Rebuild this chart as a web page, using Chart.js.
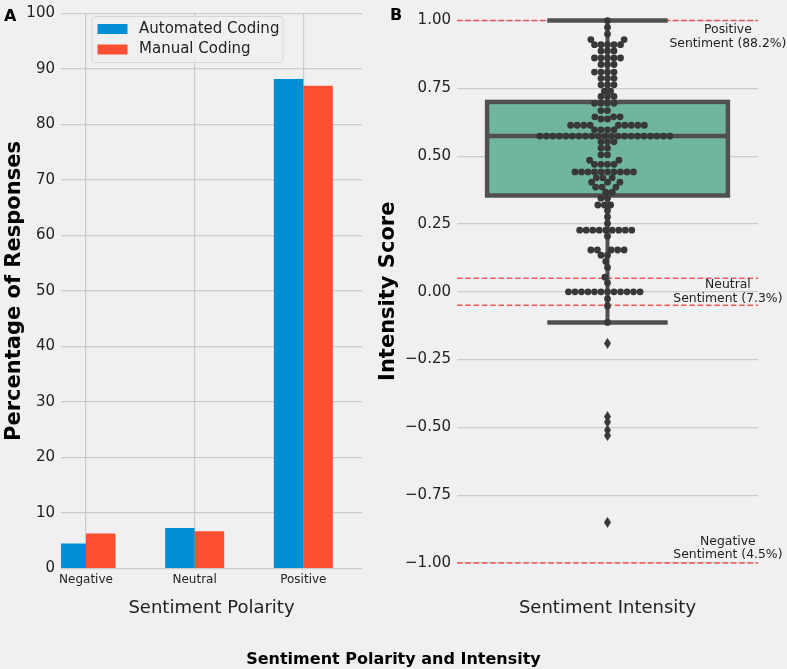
<!DOCTYPE html>
<html><head><meta charset="utf-8">
<script src="https://cdn.jsdelivr.net/npm/chart.js@4/dist/chart.umd.min.js"></script>
<style>
html,body{margin:0;padding:0;background:#f0f0f0;}
#wrap{position:relative;width:787px;height:669px;overflow:hidden;font-family:"DejaVu Sans",sans-serif;background:#f0f0f0;}
canvas{position:absolute;left:0;top:0;}
.lbl{position:absolute;font-weight:bold;color:#000;white-space:nowrap;}
</style></head><body>
<div id="wrap">
<canvas id="cA" width="787" height="640"></canvas>
<canvas id="cB" width="787" height="640"></canvas>
<div class="lbl" style="left:4px;top:8px;font-size:16px;line-height:16px">A</div>
<div class="lbl" style="left:390px;top:7px;font-size:16px;line-height:16px">B</div>
<div class="lbl" style="left:0;width:787px;text-align:center;top:651px;font-size:16px;line-height:16px">Sentiment Polarity and Intensity</div>
</div>
<script>
// ---------- data ----------
const categories = ['Negative', 'Neutral', 'Positive'];
const automatedCoding = [4.5, 7.3, 88.2];
const manualCoding = [6.3, 6.7, 87.0];
const yTicksA = [0, 10, 20, 30, 40, 50, 60, 70, 80, 90, 100];

const yTicksB = [-1.0, -0.75, -0.5, -0.25, 0.0, 0.25, 0.5, 0.75, 1.0];
// box stats: lower whisker, Q1, median, Q3, upper whisker
const boxStats = [-0.113, 0.355, 0.574, 0.70, 1.0];
const flierValues = [-0.19, -0.46, -0.48, -0.51, -0.53, -0.85];
const swarmValues = [
  1.0, 0.975, 0.95, 0.93, 0.93,
  0.911, 0.911, 0.911, 0.911, 0.911,
  0.888, 0.888, 0.888,
  0.862, 0.862, 0.862, 0.862, 0.862,
  0.838, 0.838, 0.838,
  0.81, 0.81, 0.81, 0.81,
  0.787, 0.787, 0.787,
  0.763, 0.763, 0.763,
  0.74, 0.74,
  0.72, 0.72, 0.72,
  0.695, 0.695, 0.695, 0.695,
  0.668, 0.668,
  0.645, 0.645, 0.645, 0.637, 0.637,
  0.614, 0.614, 0.614, 0.614, 0.614, 0.614, 0.614, 0.614, 0.614,
  0.597, 0.597, 0.597, 0.597,
  0.574, 0.574, 0.574, 0.574, 0.574, 0.574, 0.574, 0.574, 0.574, 0.574, 0.574,
  0.574, 0.574, 0.574, 0.574, 0.574, 0.574, 0.574, 0.574, 0.574, 0.574,
  0.553, 0.553, 0.553, 0.53, 0.53,
  0.505, 0.505, 0.485, 0.485,
  0.47, 0.47, 0.47, 0.47,
  0.442, 0.442, 0.442, 0.442, 0.442, 0.442, 0.442, 0.442, 0.442, 0.442,
  0.42, 0.42, 0.42, 0.404, 0.404, 0.404, 0.386, 0.386, 0.386,
  0.367, 0.367, 0.345, 0.345,
  0.32, 0.32, 0.32, 0.30, 0.276, 0.252,
  0.227, 0.227, 0.227, 0.227, 0.227, 0.227, 0.227, 0.227, 0.227,
  0.205,
  0.154, 0.154, 0.154, 0.154, 0.154, 0.135, 0.135,
  0.112, 0.09, 0.054, 0.033,
  0.0, 0.0, 0.0, 0.0, 0.0, 0.0, 0.0, 0.0, 0.0, 0.0, 0.0, 0.0,
  -0.026, -0.052, -0.113
];
const thresholdLines = [1.0, 0.05, -0.05, -1.0];
const sentimentClasses = ['Positive', 'Neutral', 'Negative'];
const sentimentShares = [88.2, 7.3, 4.5];
const labelAnchors = [1.0, 0.0, -1.0];

// ---------- common ----------
Chart.defaults.font.family = "'DejaVu Sans', sans-serif";
Chart.defaults.color = '#222';
const GRID = '#cbcbcb';
const CANVAS_H = 640;
const PLOT_BOTTOM = 568.5;

// ---------- Panel A ----------
const legendA = {
  id: 'legendA',
  afterDraw(chart) {
    const ctx = chart.ctx, a = chart.chartArea;
    const x0 = a.left + 31, y0 = a.top + 3, w = 191, h = 46;
    ctx.save();
    ctx.beginPath();
    ctx.roundRect(x0, y0, w, h, 3);
    ctx.fillStyle = 'rgba(240,240,240,0.8)';
    ctx.fill();
    ctx.strokeStyle = '#d6d6d6';
    ctx.lineWidth = 1;
    ctx.stroke();
    ctx.font = "15px 'DejaVu Sans'";
    ctx.textBaseline = 'middle';
    chart.data.datasets.forEach((ds, i) => {
      const yy = y0 + 12.5 + i * 20.5;
      ctx.fillStyle = ds.backgroundColor;
      ctx.fillRect(x0 + 5.5, yy - 5, 30, 10);
      ctx.fillStyle = '#222';
      ctx.fillText(ds.label, x0 + 47, yy);
    });
    ctx.restore();
  }
};

new Chart(document.getElementById('cA'), {
  type: 'bar',
  data: {
    datasets: [
      { label: 'Automated Coding', data: categories.map((c, i) => ({ x: i, y: automatedCoding[i] })),
        backgroundColor: '#008fd5', borderWidth: 0, categoryPercentage: 0.543, barPercentage: 1.0 },
      { label: 'Manual Coding', data: categories.map((c, i) => ({ x: i, y: manualCoding[i] })),
        backgroundColor: '#fc4f30', borderWidth: 0, categoryPercentage: 0.543, barPercentage: 1.0 }
    ]
  },
  options: {
    responsive: false, animation: false,
    layout: { padding: { left: 0, right: 787 - 362, top: 8.3, bottom: 0 } },
    plugins: { legend: { display: false }, tooltip: { enabled: false } },
    scales: {
      x: {
        type: 'linear', min: -0.23, max: 2.54, offset: false,
        grid: { offset: false, color: GRID, lineWidth: 1.2, drawTicks: false },
        border: { display: false },
        afterBuildTicks: s => { s.ticks = categories.map((c, i) => ({ value: i })); },
        ticks: { callback: v => categories[v], font: { size: 12 }, color: '#222', padding: 4, autoSkip: false, maxRotation: 0 },
        title: { display: true, text: 'Sentiment Polarity', font: { size: 18 }, color: '#222', padding: { top: 0, bottom: 21.2 } },
        afterFit: s => { s.height = CANVAS_H - PLOT_BOTTOM; }
      },
      y: {
        min: 0, max: 100,
        grid: { color: GRID, lineWidth: 1.2, drawTicks: false },
        border: { display: false },
        afterBuildTicks: s => { s.ticks = yTicksA.map(v => ({ value: v })); },
        ticks: { font: { size: 15, lineHeight: 1.0 }, color: '#222', padding: 6 },
        title: { display: true, text: 'Percentage of Responses', font: { size: 21, weight: 'bold' }, color: '#000', padding: { top: 2.4, bottom: 0 } },
        afterFit: s => { s.width = 61; }
      }
    }
  },
  plugins: [legendA]
});

// ---------- Panel B ----------
const diamond = document.createElement('canvas');
diamond.width = 7; diamond.height = 11;
(() => {
  const g = diamond.getContext('2d');
  g.fillStyle = '#383838';
  g.beginPath(); g.moveTo(3.5, 0); g.lineTo(7, 5.5); g.lineTo(3.5, 11); g.lineTo(0, 5.5); g.closePath(); g.fill();
})();

const boxPlugin = {
  id: 'boxPlugin',
  beforeDatasetsDraw(chart) {
    const ctx = chart.ctx, a = chart.chartArea, xs = chart.scales.x, ys = chart.scales.y;
    ctx.save();
    ctx.strokeStyle = 'rgba(245,60,60,0.85)';
    ctx.lineWidth = 1.5;
    ctx.setLineDash([5.5, 2.8]);
    thresholdLines.forEach(v => {
      const y = ys.getPixelForValue(v);
      ctx.beginPath(); ctx.moveTo(a.left, y); ctx.lineTo(a.right, y); ctx.stroke();
    });
    ctx.setLineDash([]);
    const [wLo, q1, med, q3, wHi] = boxStats;
    const xc = xs.getPixelForValue(0);
    const bx0 = xs.getPixelForValue(-0.4), bx1 = xs.getPixelForValue(0.4);
    const cx0 = xs.getPixelForValue(-0.2), cx1 = xs.getPixelForValue(0.2);
    const yq1 = ys.getPixelForValue(q1), yq3 = ys.getPixelForValue(q3);
    ctx.strokeStyle = '#505050';
    ctx.lineWidth = 4;
    ctx.beginPath();
    ctx.moveTo(xc, yq3); ctx.lineTo(xc, ys.getPixelForValue(wHi));
    ctx.moveTo(xc, yq1); ctx.lineTo(xc, ys.getPixelForValue(wLo));
    ctx.stroke();
    ctx.lineWidth = 4.5;
    ctx.beginPath();
    ctx.moveTo(cx0, ys.getPixelForValue(wHi)); ctx.lineTo(cx1, ys.getPixelForValue(wHi));
    ctx.moveTo(cx0, ys.getPixelForValue(wLo)); ctx.lineTo(cx1, ys.getPixelForValue(wLo));
    ctx.stroke();
    ctx.fillStyle = '#70b5a0';
    ctx.fillRect(bx0, yq3, bx1 - bx0, yq1 - yq3);
    ctx.lineWidth = 4.5;
    ctx.strokeRect(bx0, yq3, bx1 - bx0, yq1 - yq3);
    const ym = ys.getPixelForValue(med);
    ctx.beginPath(); ctx.moveTo(bx0, ym); ctx.lineTo(bx1, ym); ctx.stroke();
    ctx.restore();
  },
  afterDatasetsDraw(chart) {
    const ctx = chart.ctx, xs = chart.scales.x, ys = chart.scales.y;
    ctx.save();
    ctx.font = "12.4px 'DejaVu Sans'";
    ctx.fillStyle = '#222';
    ctx.textAlign = 'center';
    ctx.textBaseline = 'middle';
    const x = xs.getPixelForValue(0.4);
    const offsets = [[9.5, 23], [-7, 6.5], [-21.5, -8]];
    sentimentClasses.forEach((c, i) => {
      const y = ys.getPixelForValue(labelAnchors[i]);
      ctx.fillText(c, x, y + offsets[i][0]);
      ctx.fillText('Sentiment (' + sentimentShares[i].toFixed(1) + '%)', x, y + offsets[i][1]);
    });
    ctx.restore();
  }
};

const chartB = new Chart(document.getElementById('cB'), {
  type: 'scatter',
  data: {
    datasets: [
      { label: 'swarm', data: swarmValues.map(v => ({ x: 0, y: v })), pointRadius: 3.4, pointHoverRadius: 3.4,
        backgroundColor: '#383838', borderWidth: 0 },
      { label: 'fliers', data: flierValues.map(v => ({ x: 0, y: v })), pointStyle: diamond, pointRadius: 5,
        backgroundColor: '#383838', borderWidth: 0 }
    ]
  },
  options: {
    responsive: false, animation: false,
    layout: { padding: { left: 375, right: 787 - 758, top: 8, bottom: 0 } },
    plugins: { legend: { display: false }, tooltip: { enabled: false } },
    scales: {
      x: {
        type: 'linear', min: -0.5, max: 0.5,
        grid: { display: false }, border: { display: false },
        ticks: { display: false },
        title: { display: true, text: 'Sentiment Intensity', font: { size: 18 }, color: '#222', padding: { top: 0, bottom: 21.2 } },
        afterFit: s => { s.height = CANVAS_H - PLOT_BOTTOM - 0.5; }
      },
      y: {
        min: -1.022, max: 1.026,
        grid: { color: GRID, lineWidth: 1.2, drawTicks: false },
        border: { display: false },
        afterBuildTicks: s => { s.ticks = yTicksB.map(v => ({ value: v })); },
        ticks: { font: { size: 15, lineHeight: 1.0 }, color: '#222', padding: 6,
                 callback: v => v.toFixed(2).replace('-', '\u2212') },
        title: { display: true, text: 'Intensity Score', font: { size: 21, weight: 'bold' }, color: '#000', padding: { top: 1.4, bottom: 0 } },
        afterFit: s => { s.width = 82; }
      }
    }
  },
  plugins: [boxPlugin]
});

// beeswarm placement (seaborn-like), in pixel space via the chart's scales
(function layoutSwarm(chart) {
  const xs = chart.scales.x, ys = chart.scales.y;
  const d = 6.2;
  const pxPerX = xs.width / (xs.max - xs.min);
  const sorted = swarmValues.slice().sort((a, b) => a - b);
  const placed = [];
  for (const v of sorted) {
    const y = ys.getPixelForValue(v);
    const nb = placed.filter(p => Math.abs(p.y - y) < d);
    const cands = [0];
    let leftFirst = true;
    for (const n of nb) {
      const dy = y - n.y;
      const dx = Math.sqrt(Math.max(d * d - dy * dy, 0)) * 1.05;
      if (leftFirst) cands.push(n.x - dx, n.x + dx); else cands.push(n.x + dx, n.x - dx);
      leftFirst = !leftFirst;
    }
    const order = cands.map((c, i) => [Math.abs(c), i, c]).sort((a, b) => a[0] - b[0] || a[1] - b[1]);
    let chosen = 0;
    for (const o of order) {
      const c = o[2];
      if (nb.every(n => Math.hypot(n.x - c, n.y - y) > d - 1e-6)) { chosen = c; break; }
    }
    placed.push({ x: chosen, y: y, v: v });
  }
  chart.data.datasets[0].data = placed.map(p => ({ x: p.x / pxPerX, y: p.v }));
  chart.update('none');
})(chartB);
</script>
</body></html>
